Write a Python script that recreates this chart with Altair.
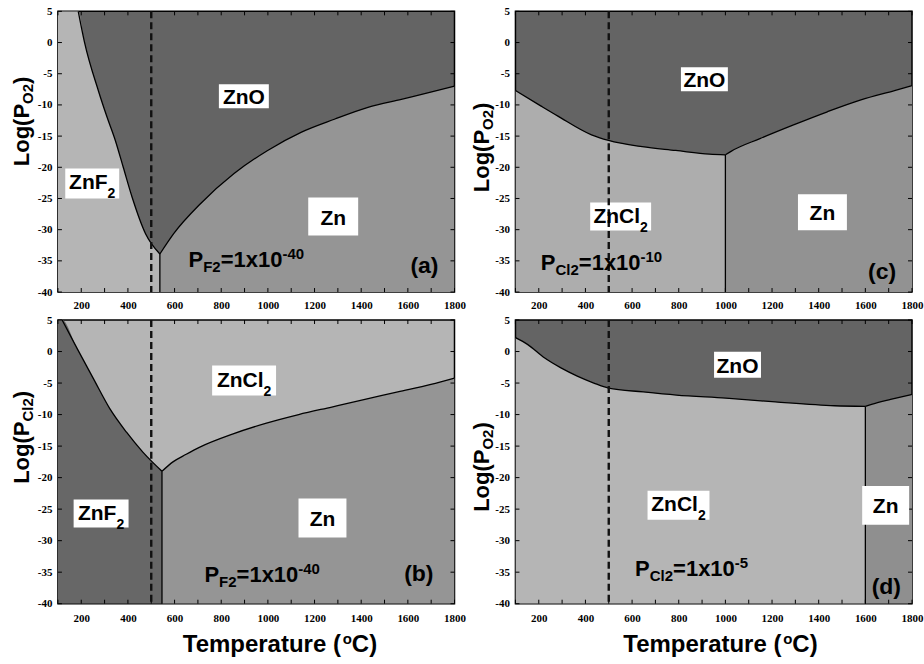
import altair as alt
import pandas as pd

SANS = "Liberation Sans"
SERIF = "Liberation Serif, Times New Roman, DejaVu Serif, serif"

T_MIN, T_MAX = 100, 1800
LOG_MIN, LOG_MAX = -40, 5
X_TICKS = [200, 400, 600, 800, 1000, 1200, 1400, 1600, 1800]
Y_TICKS = [5, 0, -5, -10, -15, -20, -25, -30, -35, -40]
X_MINOR = list(range(100, 1801, 100))
DASH_T = 500

# ---- panel (a): P_F2 = 1e-40, y = log P_O2 ----
A_LEFT_T = [187, 213, 274, 310, 346, 380, 418, 475, 537]
A_LEFT_Y = [5, 0.2, -7.8, -11.9, -15.7, -20.0, -24.8, -30.6, -33.9]
A_RIGHT_T = [537, 597, 712, 855, 999, 1142, 1285, 1429, 1572, 1715, 1800]
A_RIGHT_Y = [-33.9, -30.6, -25.8, -21.0, -17.3, -14.4, -12.3, -10.4, -9.1, -7.8, -7.0]
A_TRIPLE = (537, -33.9)

# ---- panel (b): P_F2 = 1e-40, y = log P_Cl2 ----
B_LEFT_T = [118, 182, 252, 323, 394, 465, 546]
B_LEFT_Y = [5, 0.5, -4.3, -9.1, -12.8, -16.0, -19.0]
B_RIGHT_T = [546, 593, 650, 706, 848, 990, 1132, 1274, 1416, 1557, 1699, 1800]
B_RIGHT_Y = [-19.0, -17.5, -16.3, -15.2, -13.1, -11.4, -10.0, -8.8, -7.6, -6.4, -5.2, -4.2]
B_TRIPLE = (546, -19.0)

# ---- panel (c): P_Cl2 = 1e-10, y = log P_O2 ----
C_LEFT_T = [100, 210, 282, 426, 499, 643, 787, 932, 1000]
C_LEFT_Y = [-7.7, -10.2, -11.8, -14.8, -15.7, -16.7, -17.3, -17.9, -18.0]
C_RIGHT_T = [1000, 1026, 1148, 1292, 1437, 1581, 1725, 1800]
C_RIGHT_Y = [-18.0, -17.4, -15.4, -13.2, -11.1, -9.2, -7.7, -6.9]
C_TRIPLE = (1000, -18.0)

# ---- panel (d): P_Cl2 = 1e-5, y = log P_O2 ----
D_LEFT_T = [100, 153, 224, 295, 365, 436, 499, 648, 790, 1002, 1214, 1468, 1600]
D_LEFT_Y = [2.2, 1.1, -1.0, -2.6, -3.9, -5.0, -5.8, -6.4, -6.9, -7.4, -8.0, -8.6, -8.7]
D_RIGHT_T = [1600, 1652, 1708, 1800]
D_RIGHT_Y = [-8.7, -8.1, -7.6, -6.8]
D_TRIPLE = (1600, -8.7)

# phase labels: (T, logP, pieces, box width px, box height px)
A_BOXES = [(897, -8.6, [("ZnO", "m")], 50, 24),
           (247, -22.6, [("ZnF", "m"), ("2", "b")], 54, 30),
           (1280, -27.9, [("Zn", "m")], 50, 38)]
B_BOXES = [(898, -4.6, [("ZnCl", "m"), ("2", "b")], 64, 30),
           (285, -25.7, [("ZnF", "m"), ("2", "b")], 55, 28),
           (1234, -26.4, [("Zn", "m")], 48, 39)]
C_BOXES = [(910, -5.9, [("ZnO", "m")], 47, 24),
           (551, -27.9, [("ZnCl", "m"), ("2", "b")], 61, 28),
           (1416, -27.2, [("Zn", "m")], 49, 36)]
D_BOXES = [(1052, -2.1, [("ZnO", "m")], 47, 26),
           (799, -24.4, [("ZnCl", "m"), ("2", "b")], 62, 29),
           (1687, -24.4, [("Zn", "m")], 47, 39)]

# partial-pressure annotations: (T start, logP baseline, pieces)
A_PTEXT = (660, -36.0, [("P", "m"), ("F2", "b"), ("=1x10", "m"), ("-40", "p")])
B_PTEXT = (728, -36.6, [("P", "m"), ("F2", "b"), ("=1x10", "m"), ("-40", "p")])
C_PTEXT = (209, -36.5, [("P", "m"), ("Cl2", "b"), ("=1x10", "m"), ("-10", "p")])
D_PTEXT = (613, -35.6, [("P", "m"), ("Cl2", "b"), ("=1x10", "m"), ("-5", "p")])

# panel tags: (T, logP, text)
A_TAG = (1671, -35.7, "(a)")
B_TAG = (1647, -35.1, "(b)")
C_TAG = (1672, -36.7, "(c)")
D_TAG = (1690, -37.2, "(d)")

DARK = "#646464"
MID = "#959595"
LIGHT = "#b5b5b5"

W_CHAR = {'Z': .611, 'n': .611, 'O': .778, 'F': .611, 'C': .722, 'l': .278, '2': .556,
          'P': .667, '=': .584, '1': .556, 'x': .556, '0': .556, '-': .333, '4': .556,
          '5': .556, '(': .333, ')': .333, 'a': .556, 'b': .611, 'c': .556, 'd': .611,
          'L': .611, 'o': .611, 'g': .611, ' ': .278, 'T': .611, 'e': .556, 'm': .889,
          'p': .611, 'r': .389, 't': .333, 'u': .611}


def tw(s, fs):
    return sum(W_CHAR.get(c, .556) for c in s) * fs


DUMMY = pd.DataFrame({"k": [0]})


def build_panel(W, H, bg, fills, lines, triple, boxes, ptext, tag, ysub, ytitle_pos,
                label_pad, xtitle_pos=None):
    kx = (T_MAX - T_MIN) / W
    ky = (LOG_MAX - LOG_MIN) / H
    xax = alt.Axis(values=X_TICKS, title=None, grid=False, ticks=False, domain=False,
                   labelFont=SERIF, labelFontSize=11, labelFontWeight="bold", labelColor="black",
                   labelPadding=label_pad, labelFlush=False, labelOverlap=False,
                   labelExpr="'' + datum.value")
    yax = alt.Axis(values=Y_TICKS, title=None, grid=False, ticks=False, domain=False,
                   labelFont=SERIF, labelFontSize=11, labelFontWeight="bold", labelColor="black",
                   labelPadding=6, labelFlush=False, labelOverlap=False,
                   labelExpr="'' + datum.value")
    X = alt.X("T:Q", scale=alt.Scale(domain=[T_MIN, T_MAX], nice=False, zero=False), axis=xax)
    Y = alt.Y("Y:Q", scale=alt.Scale(domain=[LOG_MIN, LOG_MAX], nice=False, zero=False), axis=yax)

    layers = []
    for ts, ys, col in fills:
        df = pd.DataFrame({"T": ts, "Y": ys, "Y0": [LOG_MIN] * len(ts)})
        layers.append(alt.Chart(df).mark_area(color=col, clip=True, interpolate="monotone")
                      .encode(x=X, y=Y, y2="Y0"))
    for ts, ys in lines:
        df = pd.DataFrame({"T": ts, "Y": ys})
        layers.append(alt.Chart(df).mark_line(color="black", strokeWidth=1.3, clip=True,
                                              interpolate="monotone")
                      .encode(x=X, y=Y))
    tdf = pd.DataFrame({"T": [triple[0]], "Y": [triple[1]], "Y0": [LOG_MIN]})
    layers.append(alt.Chart(tdf).mark_rule(color="black", strokeWidth=1.3)
                  .encode(x=X, y=Y, y2="Y0"))

    # small inward frame ticks
    xt = pd.DataFrame({"T": X_MINOR})
    layers.append(alt.Chart(xt).mark_rule(color="black", strokeWidth=1)
                  .encode(x=X, y=alt.value(H), y2=alt.value(H - 4)))
    layers.append(alt.Chart(xt).mark_rule(color="black", strokeWidth=1)
                  .encode(x=X, y=alt.value(0), y2=alt.value(4)))
    yt = pd.DataFrame({"Y": Y_TICKS})
    layers.append(alt.Chart(yt).mark_rule(color="black", strokeWidth=1)
                  .encode(y=Y, x=alt.value(0), x2=alt.value(4)))
    layers.append(alt.Chart(yt).mark_rule(color="black", strokeWidth=1)
                  .encode(y=Y, x=alt.value(W), x2=alt.value(W - 4)))

    # white boxes and their texts
    rects, texts = [], []
    for tc, yc, pieces, bw, bh in boxes:
        rects.append(dict(T=tc - bw / 2 * kx, T2=tc + bw / 2 * kx,
                          Y=yc - bh / 2 * ky, Y2=yc + bh / 2 * ky))
        has_sub = any(k == "b" for _, k in pieces)
        sizes = {"m": (21, 0), "b": (14, 9)}
        total = sum(tw(s, sizes[k][0]) for s, k in pieces)
        x = -total / 2
        base = 6 if has_sub else 8
        for s, k in pieces:
            fs, dy = sizes[k]
            texts.append(dict(T=tc + x * kx, Y=yc - (base + dy) * ky, txt=s, fs=fs))
            x += tw(s, fs)
    ts0, ys0, pieces = ptext
    sizes = {"m": (22, 0), "b": (15, 5), "p": (15, -8)}
    x = 0
    for s, k in pieces:
        fs, dy = sizes[k]
        texts.append(dict(T=ts0 + x * kx, Y=ys0 - dy * ky, txt=s, fs=fs))
        x += tw(s, fs)
    tt, ty, tx = tag
    texts.append(dict(T=tt - tw(tx, 23) / 2 * kx, Y=ty - 8 * ky, txt=tx, fs=23))

    rdf = pd.DataFrame(rects)
    layers.append(alt.Chart(rdf).mark_rect(color="white")
                  .encode(x=X, x2="T2", y=Y, y2="Y2"))
    ddf = pd.DataFrame({"T": [DASH_T]})
    layers.append(alt.Chart(ddf).mark_rule(color="#111111", strokeWidth=2.4, strokeDash=[7, 4])
                  .encode(x=X))
    txdf = pd.DataFrame(texts)
    layers.append(alt.Chart(txdf).mark_text(align="left", baseline="alphabetic", font=SANS,
                                            fontWeight="bold", color="black")
                  .encode(x=X, y=Y, text="txt:N",
                          size=alt.Size("fs:Q", scale=None, legend=None)))

    # rotated y title  Log(P_sub )
    y0, xb = ytitle_pos
    pieces = [("Log(P", 22, 0), (ysub, 15, 4), (" )", 22, 0)]
    yy = y0
    for s, fs, sh in pieces:
        layers.append(alt.Chart(DUMMY).mark_text(angle=270, align="left", baseline="alphabetic",
                                                 font=SANS, fontWeight="bold", fontSize=fs,
                                                 color="black")
                      .encode(x=alt.value(xb + sh), y=alt.value(yy), text=alt.value(s)))
        yy -= tw(s, fs)

    if xtitle_pos is not None:
        x0, yb = xtitle_pos
        pieces = [("Temperature (", 24, 0), ("o", 15, -8), ("C)", 24, 0)]
        xx = x0
        for s, fs, sh in pieces:
            layers.append(alt.Chart(DUMMY).mark_text(align="left", baseline="alphabetic",
                                                     font=SANS, fontWeight="bold", fontSize=fs,
                                                     color="black")
                          .encode(x=alt.value(xx), y=alt.value(yb + sh), text=alt.value(s)))
            xx += tw(s, fs)

    return alt.layer(*layers).properties(
        width=W, height=H,
        view=alt.ViewBackground(fill=bg, stroke="black", strokeWidth=1.5))


WL, WR = 397, 397
HT, HB = 281, 284

pa = build_panel(WL, HT, DARK,
                 [([100] + A_LEFT_T, [5] + A_LEFT_Y, LIGHT), (A_RIGHT_T, A_RIGHT_Y, MID)],
                 [(A_LEFT_T, A_LEFT_Y), (A_RIGHT_T, A_RIGHT_Y)], A_TRIPLE,
                 A_BOXES, A_PTEXT, A_TAG, "O2", (155, -29), 7)
pc = build_panel(WR, HT, DARK,
                 [(C_LEFT_T, C_LEFT_Y, "#adadad"), (C_RIGHT_T, C_RIGHT_Y, "#929292")],
                 [(C_LEFT_T, C_LEFT_Y), (C_RIGHT_T, C_RIGHT_Y)], C_TRIPLE,
                 C_BOXES, C_PTEXT, C_TAG, "O2", (181, -26), 7)
pb = build_panel(WL, HB, LIGHT,
                 [([100] + B_LEFT_T, [5] + B_LEFT_Y, "#676767"), (B_RIGHT_T, B_RIGHT_Y, MID)],
                 [(B_LEFT_T, B_LEFT_Y), (B_RIGHT_T, B_RIGHT_Y)], B_TRIPLE,
                 B_BOXES, B_PTEXT, B_TAG, "Cl2", (164, -29), 9, (125, 332))
pd_ = build_panel(WR, HB, DARK,
                  [(D_LEFT_T, D_LEFT_Y, LIGHT), (D_RIGHT_T, D_RIGHT_Y, "#8f8f8f")],
                  [(D_LEFT_T, D_LEFT_Y), (D_RIGHT_T, D_RIGHT_Y)], D_TRIPLE,
                  D_BOXES, D_PTEXT, D_TAG, "O2", (192, -26), 9, (108, 332))

chart = alt.concat(pa, pc, pb, pd_, columns=2, spacing={"row": 28, "column": 61},
                   bounds="flush").properties(
    padding={"left": 10, "top": 4, "right": 0, "bottom": 0},
    background="white",
).configure_view(stroke="black", strokeWidth=1.5)

chart.save("out.html", embed_options={"renderer": "svg", "actions": False})
